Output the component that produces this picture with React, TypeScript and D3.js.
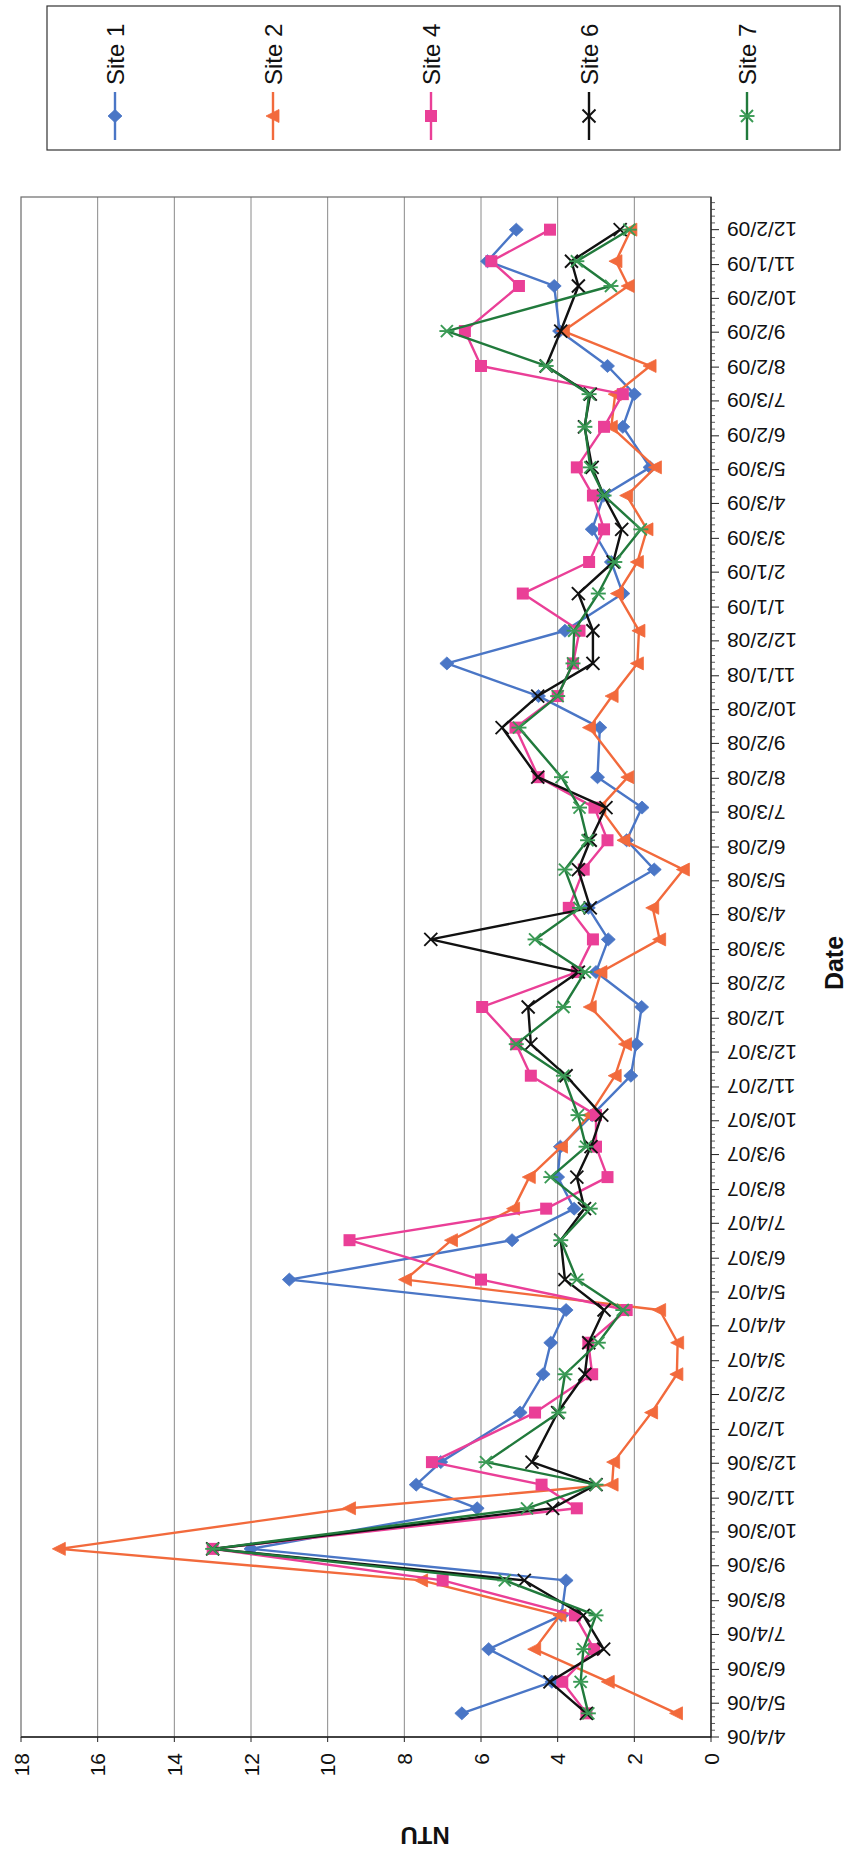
import React from 'react';
import * as d3 from 'd3';

// ---------------- data ----------------
const sampleDates = [
  '4/25/06', '5/23/06', '6/21/06', '7/21/06', '8/21/06', '9/18/06', '10/24/06', '11/14/06', '12/4/06',
  '1/17/07', '2/20/07', '3/20/07', '4/18/07', '5/15/07', '6/19/07', '7/17/07', '8/14/07', '9/10/07', '10/8/07', '11/12/07', '12/10/07',
  '1/12/08', '2/12/08', '3/12/08', '4/9/08', '5/13/08', '6/8/08', '7/7/08', '8/3/08', '9/16/08', '10/14/08', '11/12/08', '12/11/08',
  '1/13/09', '2/10/09', '3/11/09', '4/10/09', '5/5/09', '6/10/09', '7/9/09', '8/3/09', '9/3/09', '10/13/09', '11/4/09', '12/2/09',
];

const site1 = [
  6.5, 4.15, 5.8, 3.9, 3.78, 12.0, 6.1, 7.69, 7.05,
  4.98, 4.38, 4.18, 3.78, 11.0, 5.19, 3.57, 4.0, 3.93, 3.1, 2.09, 1.95,
  1.81, 3.0, 2.68, 3.2, 1.48, 2.2, 1.8, 2.96, 2.9, 4.5, 6.89, 3.81,
  2.3, 2.6, 3.1, 2.8, 1.59, 2.3, 2.0, 2.7, 3.95, 4.09, 5.83, 5.08,
];
const site2 = [
  0.9, 2.68, 4.6, 3.94, 7.55, 17.0, 9.43, 2.58, 2.54,
  1.55, 0.89, 0.87, 1.34, 7.97, 6.77, 5.15, 4.74, 3.9, 3.17, 2.5, 2.23,
  3.15, 2.87, 1.34, 1.52, 0.72, 2.27, 2.9, 2.17, 3.17, 2.58, 1.92, 1.88,
  2.44, 1.92, 1.67, 2.2, 1.45, 2.6, 2.5, 1.59, 3.85, 2.16, 2.48, 2.09,
];
const site4 = [
  3.25, 3.88, 3.05, 3.55, 7.0, 13.0, 3.5, 4.42, 7.28,
  4.59, 3.1, 3.2, 2.2, 6.0, 9.43, 4.3, 2.7, 3.0, 3.0, 4.7, 5.08,
  5.97, 3.5, 3.08, 3.71, 3.32, 2.7, 3.04, 4.5, 5.1, 4.0, 3.6, 3.43,
  4.91, 3.18, 2.79, 3.08, 3.5, 2.79, 2.3, 6.0, 6.42, 5.01, 5.73, 4.2,
];
const site6 = [
  3.25, 4.2, 2.8, 3.33, 4.87, 13.0, 4.13, 3.0, 4.67,
  4.0, 3.29, 3.19, 2.79, 3.81, 3.92, 3.3, 3.5, 3.13, 2.85, 3.78, 4.7,
  4.77, 3.46, 7.31, 3.15, 3.46, 3.15, 2.74, 4.52, 5.45, 4.52, 3.08, 3.08,
  3.46, 2.55, 2.33, 2.8, 3.1, 3.3, 3.15, 4.3, 3.92, 3.46, 3.64, 2.37,
];
const site7 = [
  3.2, 3.4, 3.33, 3.0, 5.38, 13.0, 4.8, 3.0, 5.87,
  3.97, 3.81, 2.94, 2.3, 3.5, 3.92, 3.15, 4.18, 3.26, 3.47, 3.85, 5.08,
  3.85, 3.29, 4.59, 3.43, 3.81, 3.22, 3.43, 3.9, 5.01, 4.0, 3.6, 3.57,
  2.94, 2.51, 1.83, 2.79, 3.15, 3.29, 3.18, 4.3, 6.89, 2.61, 3.5, 2.13,
];

const seriesNames = ['Site 1', 'Site 2', 'Site 4', 'Site 6', 'Site 7'];

const dateTickLabels = [
  '4/4/06', '5/4/06', '6/3/06', '7/4/06', '8/3/06', '9/3/06', '10/3/06', '11/2/06', '12/3/06',
  '1/2/07', '2/2/07', '3/4/07', '4/4/07', '5/4/07', '6/3/07', '7/4/07', '8/3/07', '9/3/07', '10/3/07', '11/2/07', '12/3/07',
  '1/2/08', '2/2/08', '3/3/08', '4/3/08', '5/3/08', '6/2/08', '7/3/08', '8/2/08', '9/2/08', '10/2/08', '11/1/08', '12/2/08',
  '1/1/09', '2/1/09', '3/3/09', '4/3/09', '5/3/09', '6/2/09', '7/3/09', '8/2/09', '9/2/09', '10/2/09', '11/1/09', '12/2/09',
];
const ntuTicks = [0, 2, 4, 6, 8, 10, 12, 14, 16, 18];
const axisStart = '4/4/06';
const axisEnd = '12/31/09';

// ---------------- layout ----------------
const PAGE_W = 849;
const PAGE_H = 1860;
const FONT = 'Liberation Sans, Arial, Helvetica, sans-serif';

const styles = [
  { color: '#4a76c6', marker: 'diamond' },
  { color: '#f26a3c', marker: 'triangle' },
  { color: '#ea3f97', marker: 'square' },
  { color: '#111111', marker: 'x' },
  { color: '#217a3c', marker: 'star', markerColor: '#3a9a55' },
];

function Marker({ kind, color, mcolor }: { kind: string; color: string; mcolor?: string }) {
  const c = mcolor || color;
  if (kind === 'diamond') return <path d="M0,-7L6.5,0L0,7L-6.5,0Z" fill={c} stroke={c} strokeWidth={0.8} />;
  if (kind === 'triangle') return <path d="M0,-7L6.5,6L-6.5,6Z" fill={c} stroke={c} strokeWidth={0.8} />;
  if (kind === 'square') return <rect x={-6} y={-6} width={12} height={12} fill={c} />;
  if (kind === 'x')
    return (
      <g stroke={c} strokeWidth={1.9}>
        <line x1={-6.5} y1={-6.5} x2={6.5} y2={6.5} />
        <line x1={-6.5} y1={6.5} x2={6.5} y2={-6.5} />
      </g>
    );
  return (
    <g stroke={c} strokeWidth={1.9}>
      <line x1={-6} y1={-6} x2={6} y2={6} />
      <line x1={-6} y1={6} x2={6} y2={-6} />
      <line x1={0} y1={-7.5} x2={0} y2={7.5} />
    </g>
  );
}

export default function App() {
  const parse = d3.timeParse('%m/%d/%y');
  // The chart is laid out in its own unrotated frame (width = PAGE_H, height = PAGE_W)
  // and rotated 90deg counter-clockwise onto the page.
  const plotTopPage = 197;
  const plotBottomPage = 1737;
  const plotLeftPage = 21;
  const plotRightPage = 711;

  const X0 = PAGE_H - plotBottomPage;
  const X1 = PAGE_H - plotTopPage;
  const Y0 = plotLeftPage;
  const Y1 = plotRightPage;

  const x = d3.scaleTime().domain([parse(axisStart)!, parse(axisEnd)!]).range([X0, X1]);
  const y = d3.scaleLinear().domain([0, 18]).range([Y1, Y0]);

  const dates = sampleDates.map((d) => parse(d)!);
  const allSeries = [site1, site2, site4, site6, site7];

  const line = d3
    .line<[Date, number]>()
    .x((d) => x(d[0]))
    .y((d) => y(d[1]));

  const majorDates = dateTickLabels.map((d) => parse(d)!);
  const minorPositions: number[] = [];
  const allMajors = [...majorDates, parse(axisEnd)!];
  const minorStep = (x(majorDates[1]) - x(majorDates[0])) / 5;
  for (let i = 0; i < allMajors.length - 1; i++) {
    const a = x(allMajors[i]);
    const b = x(allMajors[i + 1]);
    for (let k = 1; k < 5; k++) {
      const p = a + minorStep * k;
      if (p < b - 1 && p < X1) minorPositions.push(p);
    }
  }

  // legend (unrotated frame)
  const legendX0 = PAGE_H - 150;
  const legendX1 = PAGE_H - 6;
  const legendY0 = 47;
  const legendY1 = 840;
  const legendItemY = d3.scalePoint<string>().domain(seriesNames).range([115, 747]);
  const legLineA = PAGE_H - 140;
  const legLineB = PAGE_H - 92;
  const legText = PAGE_H - 85;

  return (
    <svg
      width={PAGE_W}
      height={PAGE_H}
      style={{ position: 'absolute', left: 0, top: 0, background: '#fff' }}
      fontFamily={FONT}
    >
      <rect x={0} y={0} width={PAGE_W} height={PAGE_H} fill="#fff" />
      <g transform={`translate(0,${PAGE_H}) rotate(-90)`}>
        {ntuTicks
          .filter((t) => t > 0 && t < 18)
          .map((t) => (
            <line key={'g' + t} x1={X0} x2={X1} y1={y(t)} y2={y(t)} stroke="#8a8a8a" strokeWidth={1} />
          ))}
        <rect x={X0} y={Y0} width={X1 - X0} height={Y1 - Y0} fill="none" stroke="#6a6a6a" strokeWidth={1.2} />
        <line x1={X0} x2={X0} y1={Y0} y2={Y1} stroke="#222" strokeWidth={1.3} />
        {ntuTicks.map((t) => (
          <g key={'vt' + t}>
            <line x1={X0 - 5} x2={X0} y1={y(t)} y2={y(t)} stroke="#222" strokeWidth={1} />
            <text x={X0 - 16} y={y(t)} textAnchor="end" dominantBaseline="central" fontSize={21} fill="#111">
              {t}
            </text>
          </g>
        ))}
        <line x1={X0} x2={X1} y1={Y1} y2={Y1} stroke="#222" strokeWidth={1.3} />
        {minorPositions.map((p, i) => (
          <line key={'mn' + i} x1={p} x2={p} y1={Y1} y2={Y1 + 4} stroke="#333" strokeWidth={0.8} />
        ))}
        {majorDates.map((d, i) => (
          <g key={'dt' + i}>
            <line x1={x(d)} x2={x(d)} y1={Y1} y2={Y1 + 8} stroke="#222" strokeWidth={1} />
            <text
              transform={`translate(${x(d)},${Y1 + 16}) rotate(-90)`}
              textAnchor="end"
              dominantBaseline="central"
              fontSize={21}
              fill="#111"
            >
              {dateTickLabels[i]}
            </text>
          </g>
        ))}
        <text
          transform={`translate(${PAGE_H - 1835},425) rotate(-90)`}
          textAnchor="middle"
          dominantBaseline="central"
          fontSize={24}
          fontWeight="bold"
          fill="#111"
        >
          NTU
        </text>
        <text
          x={PAGE_H - 963}
          y={834}
          textAnchor="middle"
          dominantBaseline="central"
          fontSize={25}
          fontWeight="bold"
          fill="#111"
        >
          Date
        </text>

        {allSeries.map((vals, si) => {
          const pts: [Date, number][] = vals.map((v, i) => [dates[i], v]);
          const st = styles[si];
          return (
            <g key={'s' + si}>
              <path d={line(pts) || ''} fill="none" stroke={st.color} strokeWidth={2.4} strokeLinejoin="round" />
              {pts.map((p, i) => (
                <g key={i} transform={`translate(${x(p[0])},${y(p[1])})`}>
                  <Marker kind={st.marker} color={st.color} mcolor={(st as any).markerColor} />
                </g>
              ))}
            </g>
          );
        })}

        <rect
          x={legendX0}
          y={legendY0}
          width={legendX1 - legendX0}
          height={legendY1 - legendY0}
          fill="#fff"
          stroke="#333"
          strokeWidth={1.2}
        />
        {seriesNames.map((name, si) => {
          const st = styles[si];
          const ly = legendItemY(name)!;
          return (
            <g key={'l' + si}>
              <line x1={legLineA} x2={legLineB} y1={ly} y2={ly} stroke={st.color} strokeWidth={2.4} />
              <g transform={`translate(${(legLineA + legLineB) / 2},${ly})`}>
                <Marker kind={st.marker} color={st.color} mcolor={(st as any).markerColor} />
              </g>
              <text x={legText} y={ly} dominantBaseline="central" fontSize={24} fill="#111">
                {name}
              </text>
            </g>
          );
        })}
      </g>
    </svg>
  );
}
